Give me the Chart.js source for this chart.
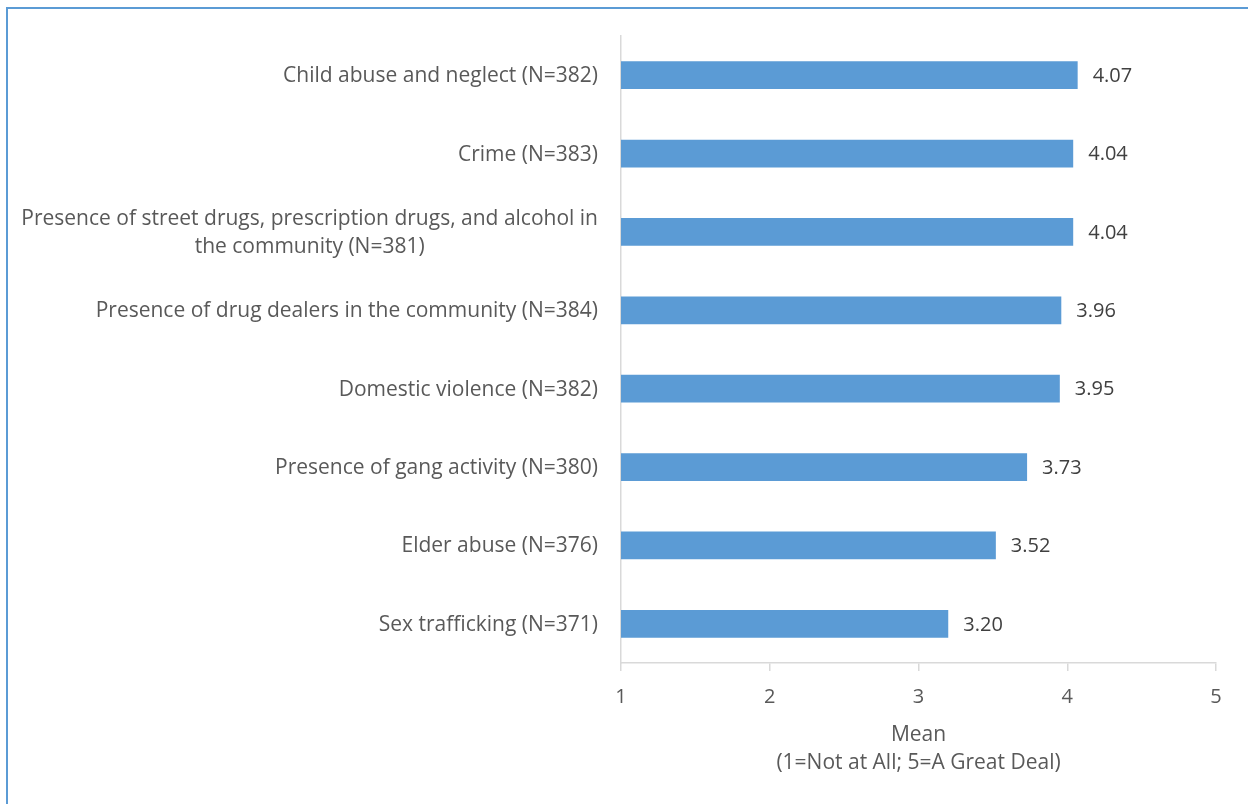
<!DOCTYPE html>
<html>
<head>
<meta charset="utf-8">
<script src="https://cdn.jsdelivr.net/npm/chart.js@4"></script>
<style>
  html, body { margin: 0; padding: 0; background: #fff; overflow: hidden; }
  #frame {
    position: absolute; left: 6px; top: 7px; width: 1400px; height: 900px;
    border-top: 2px solid #5b9bd5; border-left: 2px solid #5b9bd5;
  }
  #wrap { position: absolute; left: 0; top: 0; width: 1248px; height: 804px; }
</style>
</head>
<body>
<div id="frame"></div>
<div id="wrap"><canvas id="meanChart" width="1248" height="804"></canvas></div>
<script>
const categories = [
    ['Child abuse and neglect (N=382)'],
    ['Crime (N=383)'],
    ['Presence of street drugs, prescription drugs, and alcohol in', 'the community (N=381)'],
    ['Presence of drug dealers in the community (N=384)'],
    ['Domestic violence (N=382)'],
    ['Presence of gang activity (N=380)'],
    ['Elder abuse (N=376)'],
    ['Sex trafficking (N=371)']
];
const means = [4.07, 4.04, 4.04, 3.96, 3.95, 3.73, 3.52, 3.20];
const xTicks = [1, 2, 3, 4, 5];
const axisTitle = ['Mean', '(1=Not at All; 5=A Great Deal)'];

const FONT = '"Open Sans", "DejaVu Sans", sans-serif';
const TEXT_SIZE = 21;   // category names and axis title
const NUM_SIZE = 20;    // tick numbers and bar values

// category labels: block right-aligned to the axis, lines centred inside the block
const categoryLabels = {
    id: 'categoryLabels',
    afterDraw(chart) {
        const ctx = chart.ctx;
        const yScale = chart.scales.y;
        const right = yScale.right - 23;
        const lh = 28;
        ctx.save();
        ctx.font = TEXT_SIZE + 'px ' + FONT;
        ctx.fillStyle = '#595959';
        ctx.textAlign = 'center';
        ctx.textBaseline = 'middle';
        categories.forEach((lines, i) => {
            const y = yScale.getPixelForValue(i) + 1;
            const w = Math.max(...lines.map(l => ctx.measureText(l).width));
            const cx = right - w / 2;
            const y0 = y - (lines.length - 1) * lh / 2;
            lines.forEach((l, j) => ctx.fillText(l, cx, y0 + j * lh));
        });
        ctx.restore();
    }
};

// value labels just past the end of each bar
const valueLabels = {
    id: 'valueLabels',
    afterDatasetsDraw(chart) {
        const ctx = chart.ctx;
        const meta = chart.getDatasetMeta(0);
        ctx.save();
        ctx.font = NUM_SIZE + 'px ' + FONT;
        ctx.fillStyle = '#404040';
        ctx.textAlign = 'left';
        ctx.textBaseline = 'middle';
        meta.data.forEach((bar, i) => {
            ctx.fillText(means[i].toFixed(2), bar.x + 15, bar.y + 1);
        });
        ctx.restore();
    }
};

new Chart(document.getElementById('meanChart'), {
    type: 'bar',
    data: {
        labels: categories.map(c => c.join(' ')),
        datasets: [{
            data: means,
            backgroundColor: '#5b9bd5',
            borderWidth: 0,
            barPercentage: 0.353,
            categoryPercentage: 1
        }]
    },
    options: {
        indexAxis: 'y',
        responsive: false,
        animation: false,
        layout: { padding: { top: 36, right: 32, left: 0, bottom: 0 } },
        plugins: {
            legend: { display: false },
            tooltip: { enabled: false }
        },
        scales: {
            x: {
                min: 1,
                max: 5,
                afterBuildTicks(scale) {
                    scale.ticks = xTicks.map(v => ({ value: v }));
                },
                afterFit(scale) { scale.height = 141; },
                grid: {
                    drawOnChartArea: false,
                    drawTicks: true,
                    tickLength: 8,
                    color: '#d9d9d9',
                    lineWidth: 1.5
                },
                border: { color: '#d9d9d9', width: 1.5 },
                ticks: {
                    padding: 14,
                    color: '#595959',
                    font: { family: FONT, size: NUM_SIZE }
                },
                title: {
                    display: true,
                    text: axisTitle,
                    color: '#595959',
                    font: { family: FONT, size: TEXT_SIZE, lineHeight: 28 / 21 },
                    padding: { top: 0, bottom: 27 }
                }
            },
            y: {
                afterFit(scale) { scale.width = 621; },
                grid: { display: false },
                border: { color: '#d9d9d9', width: 1.5 },
                ticks: { display: false }
            }
        }
    },
    plugins: [categoryLabels, valueLabels]
});
</script>
</body>
</html>
